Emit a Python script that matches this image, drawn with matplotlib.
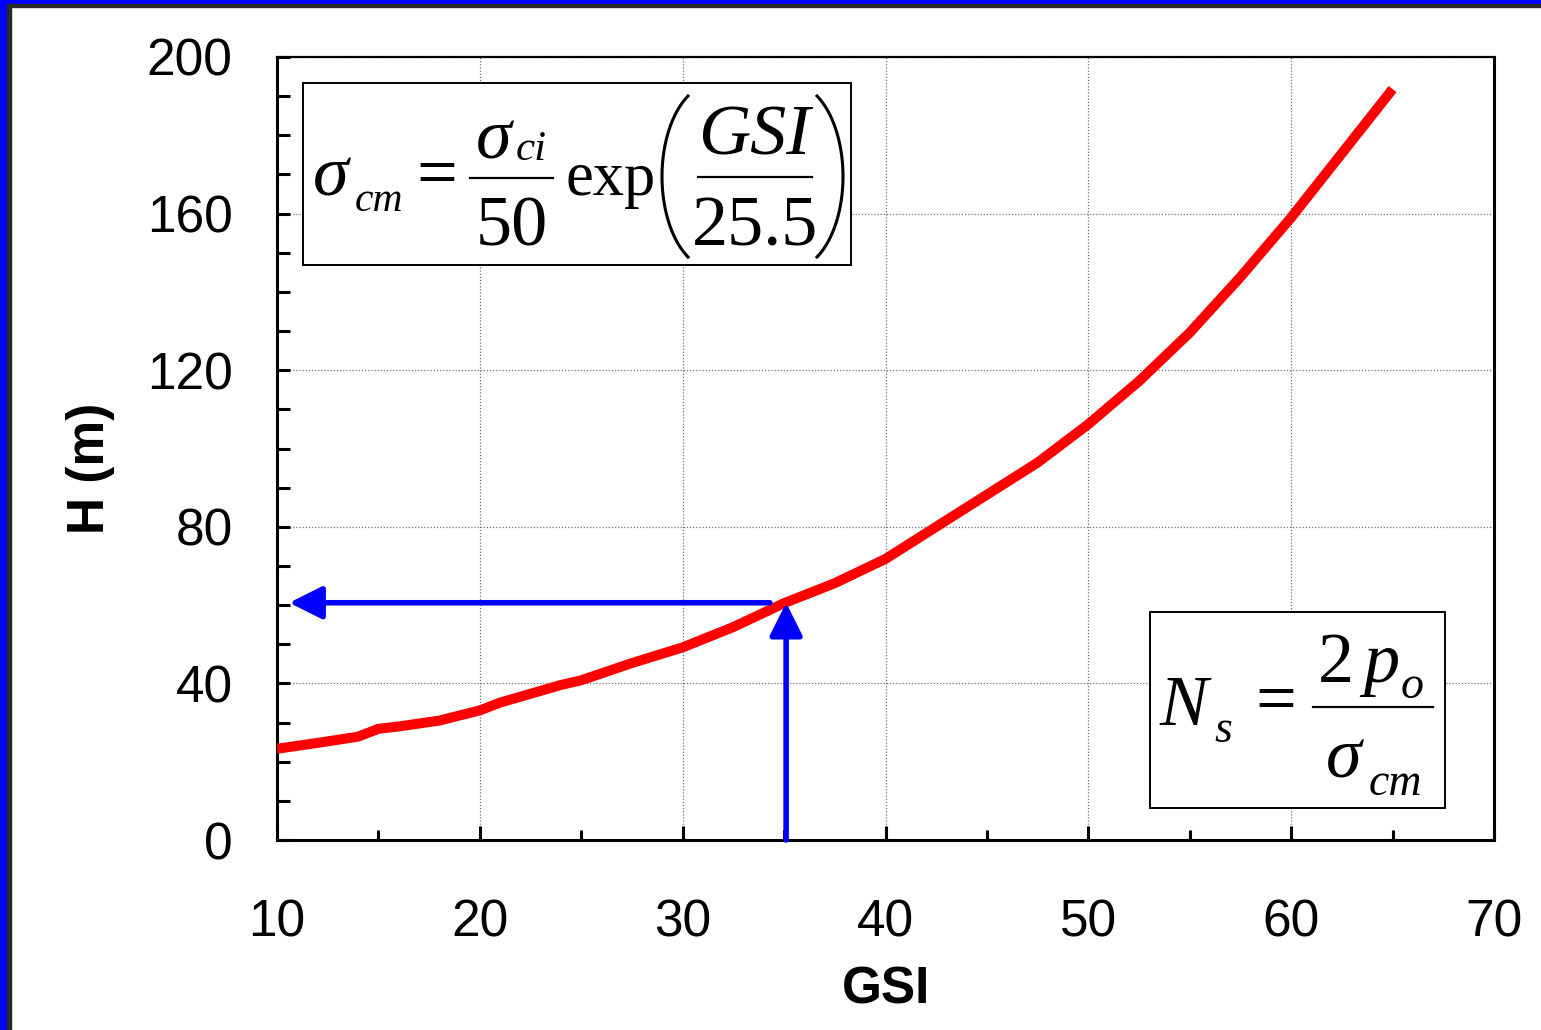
import matplotlib
matplotlib.use("Agg")
import matplotlib.pyplot as plt
import numpy as np
from matplotlib.lines import Line2D
from matplotlib.patches import Rectangle
from matplotlib.ticker import MultipleLocator

plt.rcParams['font.family'] = ['Liberation Sans', 'DejaVu Sans']

# H vs GSI curve
gsi = [10, 12, 14, 15, 16, 18, 20, 21, 22, 24, 25, 27.5, 30, 32.5, 35, 37.5,
       40, 42.5, 45, 47.5, 50, 52.5, 55, 57.5, 60, 62.5, 65]
h_m = [23.3, 24.8, 26.4, 28.4, 29.0, 30.5, 33.1, 35.1, 36.6, 39.6, 40.8, 45.2,
       49.2, 54.4, 60.5, 65.6, 71.8, 80.0, 88.2, 96.4, 106.2, 117.2, 129.6,
       143.8, 159.0, 175.4, 191.8]

# reading example shown with the blue arrows
gsi_pick = 35.1
h_pick = 60.6
arrow_start_x = 34.3
arrow_end_x = 10.6

x_ticks = [10, 20, 30, 40, 50, 60, 70]
y_ticks = [0, 40, 80, 120, 160, 200]

W, H = 1541, 1030
fig = plt.figure(figsize=(W / 100, H / 100), dpi=100)


def fx(px):
    return px / W


def fy(py):
    return 1 - py / H


# slide frame (blue strip + dark line, cropped on right/bottom)
fig.patches.append(Rectangle((0, 0), fx(7), 1, transform=fig.transFigure,
                             color='#0000ff', zorder=0))
fig.patches.append(Rectangle((0, fy(4)), 1, 4 / H, transform=fig.transFigure,
                             color='#0000ff', zorder=0))
fig.patches.append(Rectangle((fx(7), 0), fx(4), fy(4), transform=fig.transFigure,
                             color='#2a2a2a', zorder=0))
fig.patches.append(Rectangle((fx(7), fy(7)), 1, 3 / H, transform=fig.transFigure,
                             color='#2a2a2a', zorder=0))

ax = fig.add_axes([fx(277), fy(840), fx(1494 - 277), (840 - 57) / H])

ax.plot(gsi, h_m, color='#ff0000', lw=7.2, solid_capstyle='butt',
        solid_joinstyle='miter', zorder=3)

arrow = dict(arrowstyle='-|>,head_length=2.0,head_width=1.0', color='#0000ff',
             lw=4, mutation_scale=10, shrinkA=0, shrinkB=0)
ax.annotate('', xy=(arrow_end_x, h_pick), xytext=(arrow_start_x, h_pick),
            arrowprops=arrow, zorder=4)
ax.annotate('', xy=(gsi_pick, h_pick), xytext=(gsi_pick, 0),
            arrowprops=arrow, zorder=4)

ax.set_xlim(10, 70)
ax.set_ylim(0, 200)
ax.set_xticks(x_ticks)
ax.set_yticks(y_ticks)
ax.xaxis.set_minor_locator(MultipleLocator(5))
ax.yaxis.set_minor_locator(MultipleLocator(10))
ax.grid(True, which='major', color='#707070', ls=(0, (1, 1.5)), lw=0.9)
ax.set_axisbelow(True)

for s in ax.spines.values():
    s.set_linewidth(2.2)
ax.spines['top'].set_linewidth(1.6)

ax.tick_params(axis='x', which='major', direction='in', length=10, width=2.2,
               labelsize=37, pad=42)
ax.tick_params(axis='x', which='minor', direction='in', length=7, width=2.2)
ax.tick_params(axis='y', which='both', direction='in', length=9, width=2.2,
               labelsize=37, pad=32)
ax.tick_params(which='both', top=False, right=False)

ax.set_xlabel('GSI', fontsize=37, fontweight='bold', labelpad=13)
ax.set_ylabel('H (m)', fontsize=37, fontweight='bold')
ax.yaxis.set_label_coords(-0.133, 0.474)

# formula boxes (figure pixels)
for x0, y0, x1, y1 in ((303, 83, 851, 265), (1150, 612, 1445, 808)):
    fig.patches.append(Rectangle((fx(x0), fy(y1)), fx(x1 - x0), (y1 - y0) / H,
                                 transform=fig.transFigure, facecolor='white',
                                 edgecolor='black', lw=1.4, zorder=5))

SERIF = ['Liberation Serif', 'DejaVu Serif']
BIG, SUB = 52, 33


def put(x, y, s, size=BIG, italic=True, ha='left'):
    fig.text(fx(x), fy(y), s, fontsize=size, family=SERIF,
             style='italic' if italic else 'normal', ha=ha, va='baseline',
             zorder=6)


def bar(x0, x1, y):
    fig.lines.append(Line2D([fx(x0), fx(x1)], [fy(y), fy(y)], color='black',
                            lw=1.6, transform=fig.transFigure, zorder=6))


def paren(xl, xr, yt, yb, left=True):
    # elliptic arc for a tall, thin bracket
    yc = (yt + yb) / 2
    b = (yb - yt) / 2 / np.sin(np.radians(60))
    a = (xr - xl) / 0.5
    t = np.radians(np.linspace(120, 240, 60))
    if left:
        xs = xr + a / 2 + a * np.cos(t)
    else:
        xs = xl - a / 2 - a * np.cos(t)
    ys = yc + b * np.sin(t)
    fig.lines.append(Line2D(fx(xs), fy(ys), color='black', lw=2.2,
                            transform=fig.transFigure, zorder=6))


# sigma_cm = sigma_ci / 50 * exp(GSI / 25.5)
put(313, 195, 'σ')
put(355, 211, 'cm', 30)
put(437, 196, '=', italic=False, ha='center')
put(476, 158, 'σ')
put(516, 160, 'ci', 31)
bar(470, 553, 178)
put(512, 245, '50', italic=False, ha='center')
put(565, 195, 'exp', 45, italic=False)
paren(662, 688, 96, 257, left=True)
put(754, 155, 'GSI', ha='center')
bar(698, 812, 177)
put(755, 245, '25.5', italic=False, ha='center')
paren(817, 843, 96, 257, left=False)

# N_s = 2 p_o / sigma_cm
put(1160, 725, 'N')
put(1214, 742, 's', SUB)
put(1276, 722, '=', italic=False, ha='center')
put(1318, 682, '2', italic=False)
put(1363, 682, 'p')
put(1401, 698, 'o', SUB)
bar(1313, 1433, 707)
put(1326, 778, 'σ')
put(1369, 795, 'cm', SUB)

fig.savefig('out.png', dpi=100)
